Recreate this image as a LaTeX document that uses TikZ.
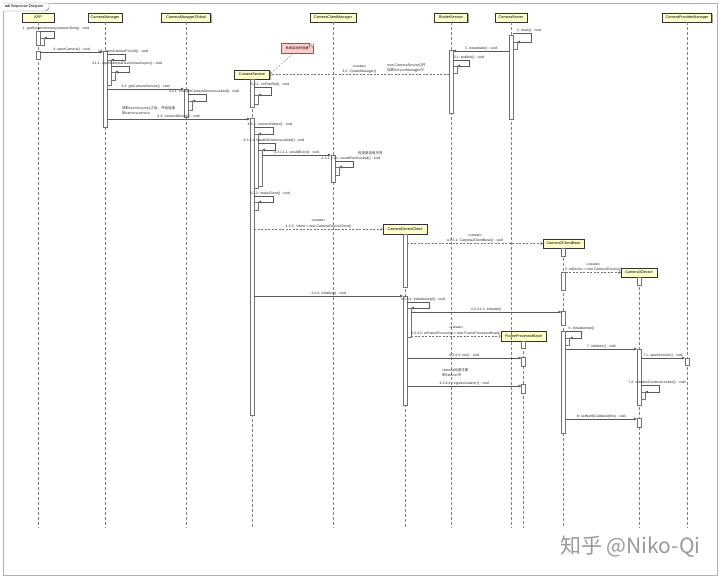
\documentclass[tikz,border=0pt]{standalone}
\usepackage{fontspec}
\setmainfont{Liberation Sans}
\newfontfamily\cjk{Noto Sans CJK SC}
\usetikzlibrary{arrows.meta,shadows}

\definecolor{headfill}{HTML}{FFFFCC}
\definecolor{notefill}{HTML}{FFCCCC}

\begin{document}
\begin{tikzpicture}[x=1pt,y=-1pt,font=\fontsize{3.5}{5.5}\selectfont,
    head/.style={draw=black!80,fill=headfill,minimum height=9.5pt,inner sep=0pt,
      font=\fontsize{3.8}{4.2}\selectfont,
      drop shadow={shadow xshift=1pt,shadow yshift=-1pt,fill=black!45,opacity=.8}},
    life/.style={black!50,dash pattern=on 3pt off 2pt,line width=.35pt},
    bar/.style={draw=black!55,fill=white,line width=.35pt},
    msg/.style={black!65,line width=.35pt,-{Latex[length=3pt,width=3pt]}},
    create/.style={black!55,line width=.35pt,dash pattern=on 2pt off 1.5pt,-{Straight Barb[length=2pt,width=3.5pt]}},
    lbl/.style={midway,above,inner sep=.8pt,text=black!85,align=center},
    slbl/.style={anchor=south,xshift=16pt,inner sep=.8pt,text=black!85},
    remark/.style={anchor=north west,inner sep=0pt,align=left,text=black!85,font=\cjk\fontsize{3.5}{5.5}\selectfont}]
    \useasboundingbox (0,0) rectangle (720,578);

    % frame
    \draw[black!30,line width=.6pt] (3,3) rectangle (717,575);
    \draw[black!55,fill=white,line width=.4pt] (3,3) -- (49,3) -- (49,8) -- (46,11) -- (3,11);
    \node[anchor=west,inner sep=1pt,font=\fontsize{3.8}{4}\selectfont] (title) at (4,7) {\textbf{sd} Sequence Diagram};

    % objects
    \node[head,minimum width=32pt] (APP) at (38,17.5) {APP};
    \node[head,minimum width=34pt] (CM) at (105,17.5) {CameraManager};
    \node[head,minimum width=49pt] (CMG) at (186,17.5) {CameraManagerGlobal};
    \node[head,minimum width=46pt] (CCM) at (333,17.5) {CameraClientManager};
    \node[head,minimum width=33pt] (BS) at (451,17.5) {BinderService};
    \node[head,minimum width=32pt] (CSv) at (511,17.5) {CameraServer};
    \node[head,minimum width=49pt] (CPM) at (687,17.5) {CameraProviderManager};
    \node[head,minimum width=35pt] (CS) at (252,74.5) {CameraService};
    \node[head,minimum width=44pt] (CDC) at (405,229) {CameraDeviceClient};
    \node[head,minimum width=41pt] (C2CB) at (563.5,243.5) {Camera2ClientBase};
    \node[head,minimum width=36pt] (C3D) at (639,272.5) {Camera3Device};
    \node[head,minimum width=45pt] (FPB) at (523.5,336) {FrameProcessorBase};

    \foreach \obj in {APP,CM,CMG,CS,CCM,CDC,BS,CSv,FPB,C2CB,C3D,CPM}
        \draw[life] (\obj.south) -- (\obj |- 0,528);

    % activations
    \draw[bar] ([xshift=-2pt]APP |- 0,31) rectangle ([xshift=2pt]APP |- 0,45);
    \draw[bar] ([xshift=2pt]APP |- 0,38) rectangle ([xshift=6pt]APP |- 0,45);
    \draw[bar] ([xshift=-2pt]APP |- 0,51) rectangle ([xshift=2pt]APP |- 0,59);
    \draw[bar] ([xshift=-2pt]CM |- 0,51) rectangle ([xshift=2pt]CM |- 0,127);
    \draw[bar] ([xshift=2pt]CM |- 0,60) rectangle ([xshift=6pt]CM |- 0,85);
    \draw[bar] ([xshift=6pt]CM |- 0,72) rectangle ([xshift=10pt]CM |- 0,80);
    \draw[bar] ([xshift=-2pt]CMG |- 0,89) rectangle ([xshift=2pt]CMG |- 0,117);
    \draw[bar] ([xshift=2pt]CMG |- 0,101) rectangle ([xshift=6pt]CMG |- 0,110);
    \draw[bar] ([xshift=-2pt]CSv |- 0,35) rectangle ([xshift=2pt]CSv |- 0,119);
    \draw[bar] ([xshift=2pt]CSv |- 0,42) rectangle ([xshift=6pt]CSv |- 0,49);
    \draw[bar] ([xshift=-2pt]BS |- 0,50) rectangle ([xshift=2pt]BS |- 0,113);
    \draw[bar] ([xshift=2pt]BS |- 0,66) rectangle ([xshift=6pt]BS |- 0,73);
    \draw[bar] ([xshift=-2pt]CS |- 0,79) rectangle ([xshift=2pt]CS |- 0,107);
    \draw[bar] ([xshift=2pt]CS |- 0,95) rectangle ([xshift=6pt]CS |- 0,104);
    \draw[bar] ([xshift=-2pt]CS |- 0,118) rectangle ([xshift=2pt]CS |- 0,415);
    \draw[bar] ([xshift=2pt]CS |- 0,134) rectangle ([xshift=6pt]CS |- 0,188);
    \draw[bar] ([xshift=6pt]CS |- 0,150) rectangle ([xshift=10pt]CS |- 0,186);
    \draw[bar] ([xshift=2pt]CS |- 0,202) rectangle ([xshift=6pt]CS |- 0,210);
    \draw[bar] ([xshift=-2pt]CCM |- 0,155) rectangle ([xshift=2pt]CCM |- 0,182);
    \draw[bar] ([xshift=2pt]CCM |- 0,167) rectangle ([xshift=6pt]CCM |- 0,175);
    \draw[bar] ([xshift=-2pt]CDC |- 0,234) rectangle ([xshift=2pt]CDC |- 0,287);
    \draw[bar] ([xshift=-2pt]CDC |- 0,296) rectangle ([xshift=2pt]CDC |- 0,405);
    \draw[bar] ([xshift=2pt]CDC |- 0,308) rectangle ([xshift=6pt]CDC |- 0,337);
    \draw[bar] ([xshift=-2pt]C2CB |- 0,248) rectangle ([xshift=2pt]C2CB |- 0,256);
    \draw[bar] ([xshift=-2pt]C2CB |- 0,272) rectangle ([xshift=2pt]C2CB |- 0,290);
    \draw[bar] ([xshift=-2pt]C2CB |- 0,311) rectangle ([xshift=2pt]C2CB |- 0,325);
    \draw[bar] ([xshift=-2pt]C2CB |- 0,331) rectangle ([xshift=2pt]C2CB |- 0,433);
    \draw[bar] ([xshift=2pt]C2CB |- 0,338) rectangle ([xshift=6pt]C2CB |- 0,345);
    \draw[bar] ([xshift=-2pt]C3D |- 0,277) rectangle ([xshift=2pt]C3D |- 0,285);
    \draw[bar] ([xshift=-2pt]C3D |- 0,349) rectangle ([xshift=2pt]C3D |- 0,405);
    \draw[bar] ([xshift=2pt]C3D |- 0,392) rectangle ([xshift=6pt]C3D |- 0,399);
    \draw[bar] ([xshift=-2pt]C3D |- 0,418) rectangle ([xshift=2pt]C3D |- 0,427);
    \draw[bar] ([xshift=-2pt]FPB |- 0,341) rectangle ([xshift=2pt]FPB |- 0,348);
    \draw[bar] ([xshift=-2pt]FPB |- 0,357) rectangle ([xshift=2pt]FPB |- 0,366);
    \draw[bar] ([xshift=-2pt]FPB |- 0,384) rectangle ([xshift=2pt]FPB |- 0,393);
    \draw[bar] ([xshift=-2pt]CPM |- 0,358) rectangle ([xshift=2pt]CPM |- 0,365);

    % messages
    \draw[msg] ([xshift=2pt]APP |- 0,31) node[slbl]{1. getSystemService(camera:String) : void} -- ++(14,0) -- ++(0,7) -- ([xshift=6pt]APP |- 0,38);
    \draw[msg] ([xshift=2pt]CSv |- 0,33) node[slbl]{2. main() : void} -- ++(18,0) -- ++(0,9) -- ([xshift=6pt]CSv |- 0,42);
    \draw[msg] ([xshift=-2pt]CSv |- 0,51) -- ([xshift=2pt]BS |- 0,51) node[lbl]{3. instantiate() : void};
    \draw[msg] ([xshift=2pt]BS |- 0,60) node[slbl]{3.1: publish() : void} -- ++(16,0) -- ++(0,6) -- ([xshift=6pt]BS |- 0,66);
    \draw[create] ([xshift=-2pt]BS |- CS) -- (CS.east) node[lbl]{<<create>>\\3.2: CreateManager()};
    \draw[msg] ([xshift=2pt]CS |- 0,87) node[slbl]{3.2.1: onFirstRef() : void} -- ++(17,0) -- ++(0,8) -- ([xshift=6pt]CS |- 0,95);
    \draw[msg] ([xshift=2pt]APP |- 0,52) -- ([xshift=-2pt]CM |- 0,52) node[lbl]{4. openCamera() : void};
    \draw[msg] ([xshift=2pt]CM |- 0,54) node[slbl]{4.1: openCameraForUid() : void} -- ++(18,0) -- ++(0,6) -- ([xshift=6pt]CM |- 0,60);
    \draw[msg] ([xshift=6pt]CM |- 0,66) node[slbl]{4.1.1: openCameraDeviceUserAsync() : void} -- ++(18,0) -- ++(0,6) -- ([xshift=10pt]CM |- 0,72);
    \draw[msg] ([xshift=2pt]CM |- 0,89) -- ([xshift=-2pt]CMG |- 0,89) node[lbl]{4.2: getCameraService() : void};
    \draw[msg] ([xshift=2pt]CMG |- 0,94) node[slbl]{4.2.1: connectCameraServiceLocked() : void} -- ++(18,0) -- ++(0,7) -- ([xshift=6pt]CMG |- 0,101);
    \draw[msg] ([xshift=2pt]CM |- 0,119) -- ([xshift=-2pt]CS |- 0,119) node[lbl]{4.3: connectDevice() : void};
    \draw[msg] ([xshift=2pt]CS |- 0,127) node[slbl]{4.3.1: connectHelper() : void} -- ++(19,0) -- ++(0,7) -- ([xshift=6pt]CS |- 0,134);
    \draw[msg] ([xshift=6pt]CS |- 0,143) node[slbl]{4.3.1.1: handleEvictionsLocked() : void} -- ++(17,0) -- ++(0,7) -- ([xshift=10pt]CS |- 0,150);
    \draw[msg] ([xshift=10pt]CS |- 0,155) -- ([xshift=-2pt]CCM |- 0,155) node[lbl]{4.3.1.1.1: wouldEvict() : void};
    \draw[msg] ([xshift=2pt]CCM |- 0,161) node[slbl]{4.3.1.1.1.1: wouldEvictLocked() : void} -- ++(18,0) -- ++(0,6) -- ([xshift=6pt]CCM |- 0,167);
    \draw[msg] ([xshift=2pt]CS |- 0,196) node[slbl]{4.3.2: makeClient() : void} -- ++(19,0) -- ++(0,6) -- ([xshift=6pt]CS |- 0,202);
    \draw[create] ([xshift=2pt]CS |- CDC) -- (CDC.west) node[lbl]{<<create>>\\4.3.3: *client = new CameraDeviceClient()};
    \draw[create] ([xshift=2pt]CDC |- C2CB) -- (C2CB.west) node[lbl]{<<create>>\\4.3.3.1: Camera2ClientBase() : void};
    \draw[create] ([xshift=2pt]C2CB |- C3D) -- (C3D.west) node[lbl]{<<create>>\\5: mDevice = new Camera3Device()};
    \draw[msg] ([xshift=2pt]CS |- 0,296) -- ([xshift=-2pt]CDC |- 0,296) node[lbl]{4.3.4: initialize() : void};
    \draw[msg] ([xshift=2pt]CDC |- 0,302) node[slbl]{4.3.4.1: initializeImpl() : void} -- ++(22,0) -- ++(0,6) -- ([xshift=6pt]CDC |- 0,308);
    \draw[msg] ([xshift=6pt]CDC |- 0,312) -- ([xshift=-2pt]C2CB |- 0,312) node[lbl]{4.3.4.1.1: initialize()};
    \draw[create] ([xshift=6pt]CDC |- FPB) -- (FPB.west) node[lbl]{<<create>>\\4.3.4.2: mFrameProcessor = new FrameProcessorBase()};
    \draw[msg] ([xshift=2pt]C2CB |- 0,331) node[slbl]{6: initializeImpl()} -- ++(16,0) -- ++(0,7) -- ([xshift=6pt]C2CB |- 0,338);
    \draw[msg] ([xshift=2pt]C2CB |- 0,349) -- ([xshift=-2pt]C3D |- 0,349) node[lbl]{7: initialize() : void};
    \draw[msg] ([xshift=2pt]C3D |- 0,358) -- ([xshift=-2pt]CPM |- 0,358) node[lbl]{7.1: openSession() : void};
    \draw[msg] ([xshift=2pt]C3D |- 0,385) node[slbl]{7.2: initializeCommonLocked() : void} -- ++(18,0) -- ++(0,7) -- ([xshift=6pt]C3D |- 0,392);
    \draw[msg] ([xshift=2pt]CDC |- 0,358) -- ([xshift=-2pt]FPB |- 0,358) node[lbl]{4.3.4.3: run() : void};
    \draw[msg] ([xshift=2pt]CDC |- 0,386) -- ([xshift=-2pt]FPB |- 0,386) node[lbl]{4.3.4.4: registerListener() : void};
    \draw[msg] ([xshift=2pt]C2CB |- 0,419) -- ([xshift=-2pt]C3D |- 0,419) node[lbl]{8: setNotifyCallback(this) : void};

    % notes
    \node[remark] (rmk1) at (122,106) {获取service proxy之后，开始连接\\到camera service};
    \node[remark] (rmk2) at (387,63) {new CameraService()并\\加到ServiceManager中};
    \node[remark] (rmk3) at (358,151) {检查是否有冲突};
    \node[remark] (rmk4) at (442,368) {camera回调注册\\到listener中};
    \node[draw=black!60,fill=notefill,minimum width=32pt,minimum height=10pt,inner sep=1pt,
        font=\cjk\fontsize{3.3}{4}\selectfont,anchor=north west] (csnote) at (281,43) {系统启动时创建};
    \fill[white] ([xshift=-4pt]csnote.north east) -- (csnote.north east) -- ([yshift=-4pt]csnote.north east) -- cycle;
    \draw[black!60,fill=notefill,line width=.4pt] ([xshift=-4pt]csnote.north east) -- ([xshift=-4pt,yshift=-4pt]csnote.north east) -- ([yshift=-4pt]csnote.north east) -- cycle;
    \draw[black!55,dash pattern=on 2pt off 1.5pt,line width=.35pt] ([xshift=12pt]csnote.south west) -- (CS.east);

    \node[text=black!40,font=\cjk\fontsize{21}{21}\selectfont,anchor=east] (wm) at (704,547) {知乎 @Niko-Qi};
\end{tikzpicture}
\end{document}
